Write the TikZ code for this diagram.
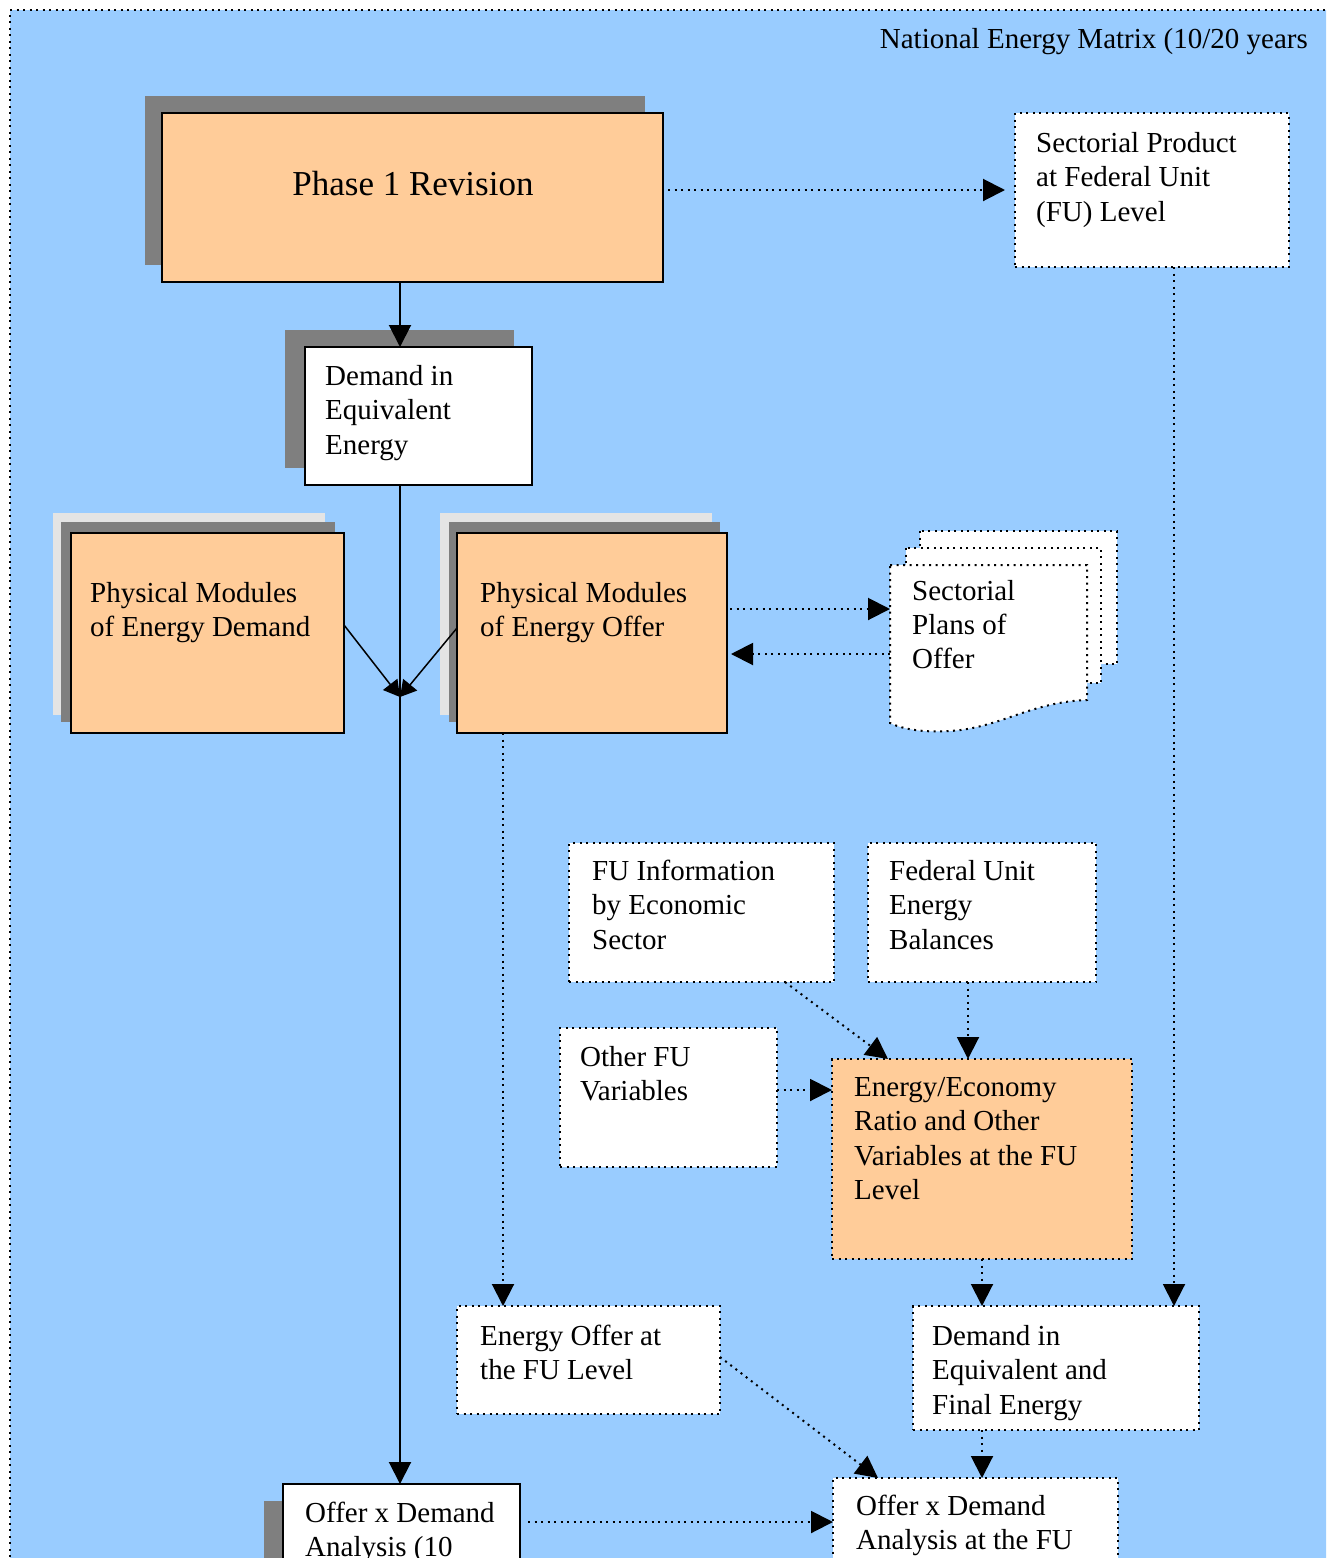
\documentclass[tikz,border=0pt]{standalone}
\usepackage{fontspec}
\setmainfont{Liberation Serif}
\usetikzlibrary{arrows.meta,calc}
\definecolor{bgblue}{HTML}{99CCFF}
\definecolor{peach}{HTML}{FFCC99}
\definecolor{shdark}{HTML}{7F7F7F}
\definecolor{shlight}{HTML}{E4E4E4}
\begin{document}
\begin{tikzpicture}[x=1pt,y=-1pt,
 rectbox/.style={anchor=north west, inner sep=0pt, outer sep=0pt, line width=2pt},
 solidbox/.style={rectbox, draw=black},
 dotpat/.style={dash pattern=on 2pt off 4.5pt},
 dotbox/.style={rectbox, draw=black, dotpat},
 txt/.style={anchor=base west, align=left, inner sep=0pt, font=\fontsize{29}{34.5}\selectfont},
 bigtip/.style={-{Triangle[width=22pt,length=22pt]}},
 smalltip/.style={-{Triangle[width=18pt,length=16pt]}},
 solidarrow/.style={line width=2pt, bigtip},
 dotarrow/.style={line width=2pt, dotpat, bigtip},
 pagestyle/.style={fill=white, draw=black, line width=2pt, dotpat},
]
\useasboundingbox (0,0) rectangle (1326,1558);
\clip (0,0) rectangle (1326,1558);
\fill[white] (0,0) rectangle (1326,1558);
\fill[bgblue] (10,10) rectangle (1340,1570);
\draw[line width=2pt, dotpat] (10,1570) -- (10,10) -- (1340,10);

% title
\node[anchor=base east, inner sep=0pt, font=\fontsize{29}{34}\selectfont] (title) at (1308,48) {National Energy Matrix (10/20 years};

% Phase 1 Revision
\fill[shdark] (145,96) rectangle (645,265);
\node[solidbox, fill=peach, minimum width=501pt, minimum height=169pt] (p1) at (162,113) {};
\node[anchor=base, inner sep=0pt, font=\fontsize{35}{40}\selectfont] (p1t) at (413,195) {Phase 1 Revision};

% Sectorial Product
\node[dotbox, fill=white, minimum width=274pt, minimum height=154pt] (sp) at (1015,113) {};
\node[txt] (spt) at (1036,221) {Sectorial Product\\at Federal Unit\\(FU) Level};

% Demand in Equivalent Energy
\fill[shdark] (285,330) rectangle (514,468);
\node[solidbox, fill=white, minimum width=227pt, minimum height=138pt] (dee) at (305,347) {};
\node[txt] (deet) at (325,454) {Demand in\\Equivalent\\Energy};

% Physical Modules of Energy Demand
\fill[shlight] (53,513) rectangle (325,715);
\fill[shdark] (61,522) rectangle (335,722);
\node[solidbox, fill=peach, minimum width=273pt, minimum height=200pt] (pmd) at (71,533) {};
\node[txt] (pmdt) at (90,636.5) {Physical Modules\\of Energy Demand};

% Physical Modules of Energy Offer
\fill[shlight] (440,513) rectangle (712,715);
\fill[shdark] (449,522) rectangle (720,722);
\node[solidbox, fill=peach, minimum width=270pt, minimum height=200pt] (pmo) at (457,533) {};
\node[txt] (pmot) at (480,636.5) {Physical Modules\\of Energy Offer};

% Sectorial Plans of Offer (multi-document)
\path[pagestyle] (920,531) rectangle (1117,664);
\path[pagestyle] (906,548) rectangle (1101,683);
\path[pagestyle] (890,565) -- (1087,565) -- (1087,700)
  .. controls (1030,702) and (1000,728) .. (950,731)
  .. controls (920,733) and (900,728) .. (890,723) -- cycle;
\node[rectbox, minimum width=197pt, minimum height=160pt] (spo) at (890,565) {};
\node[txt, font=\fontsize{29}{34}\selectfont] (spot) at (912,668) {Sectorial\\Plans of\\Offer};

% lower boxes
\node[dotbox, fill=white, minimum width=265pt, minimum height=139pt] (fui) at (569,843) {};
\node[txt] (fuit) at (592,949) {FU Information\\by Economic\\Sector};
\node[dotbox, fill=white, minimum width=228pt, minimum height=139pt] (feb) at (868,843) {};
\node[txt] (febt) at (889,949) {Federal Unit\\Energy\\Balances};
\node[dotbox, fill=white, minimum width=217pt, minimum height=139pt] (ofu) at (560,1028) {};
\node[txt] (ofut) at (580,1100.5) {Other FU\\Variables};
\node[dotbox, fill=peach, minimum width=300pt, minimum height=200pt] (eer) at (832,1059) {};
\node[txt] (eert) at (854,1199.5) {Energy/Economy\\Ratio and Other\\Variables at the FU\\Level};
\node[dotbox, fill=white, minimum width=263pt, minimum height=108pt] (eo) at (457,1306) {};
\node[txt] (eot) at (480,1379.5) {Energy Offer at\\the FU Level};
\node[dotbox, fill=white, minimum width=286pt, minimum height=124pt] (dfe) at (913,1306) {};
\node[txt] (dfet) at (932,1414) {Demand in\\Equivalent and\\Final Energy};

% bottom boxes
\fill[shdark] (264,1501) rectangle (502,1600);
\node[solidbox, fill=white, minimum width=237pt, minimum height=120pt] (oxd) at (283,1484) {};
\node[txt] (oxdt) at (305,1556.5) {Offer x Demand\\Analysis (10};
\node[dotbox, fill=white, minimum width=285pt, minimum height=130pt] (oxf) at (833,1478) {};
\node[txt] (oxft) at (856,1549.5) {Offer x Demand\\Analysis at the FU};

% connectors
\coordinate (tx) at (400,0);
\coordinate (merge) at (400,697);
\draw[solidarrow] (p1.south -| tx) -- (dee.north -| tx);
\draw[solidarrow] (dee.south -| tx) -- (oxd.north -| tx);
\draw[line width=1.5pt, smalltip] ([yshift=8pt]pmd.east) -- (merge);
\draw[line width=1.5pt, smalltip] ([yshift=5pt]pmo.west) -- (merge);

\draw[dotarrow, shorten <=5pt, shorten >=10pt] (p1.east |- sp.west) -- (sp.west);
\draw[dotarrow, shorten <=3pt] ([yshift=24pt]pmo.east) -- ([yshift=24pt]pmo.east -| spo.west);
\draw[dotarrow, shorten >=4pt] ([yshift=-21pt]pmo.east -| spo.west) -- ([yshift=-21pt]pmo.east);
\draw[dotarrow] ([xshift=46pt]pmo.south west) -- ([xshift=46pt]pmo.south west |- eo.north);
\draw[dotarrow] ([xshift=159pt]sp.south west) -- ([xshift=159pt]sp.south west |- dfe.north);
\draw[dotarrow] ([xshift=216pt]fui.south west) -- ([xshift=56pt]eer.north west);
\draw[dotarrow] ([xshift=100pt]feb.south west) -- ([xshift=100pt]feb.south west |- eer.north);
\draw[dotarrow] ([yshift=7.5pt]ofu.east) -- ([yshift=7.5pt]ofu.east -| eer.west);
\draw[dotarrow] ([xshift=150pt]eer.south west) -- ([xshift=150pt]eer.south west |- dfe.north);
\draw[dotarrow] ([yshift=3pt]eo.east) -- ([xshift=45pt]oxf.north west);
\draw[dotarrow] ([xshift=69pt]dfe.south west) -- ([xshift=69pt]dfe.south west |- oxf.north);
\draw[dotarrow, shorten <=8pt] ([yshift=22pt]oxd.east) -- ([yshift=22pt]oxd.east -| oxf.west);
\end{tikzpicture}
\end{document}
